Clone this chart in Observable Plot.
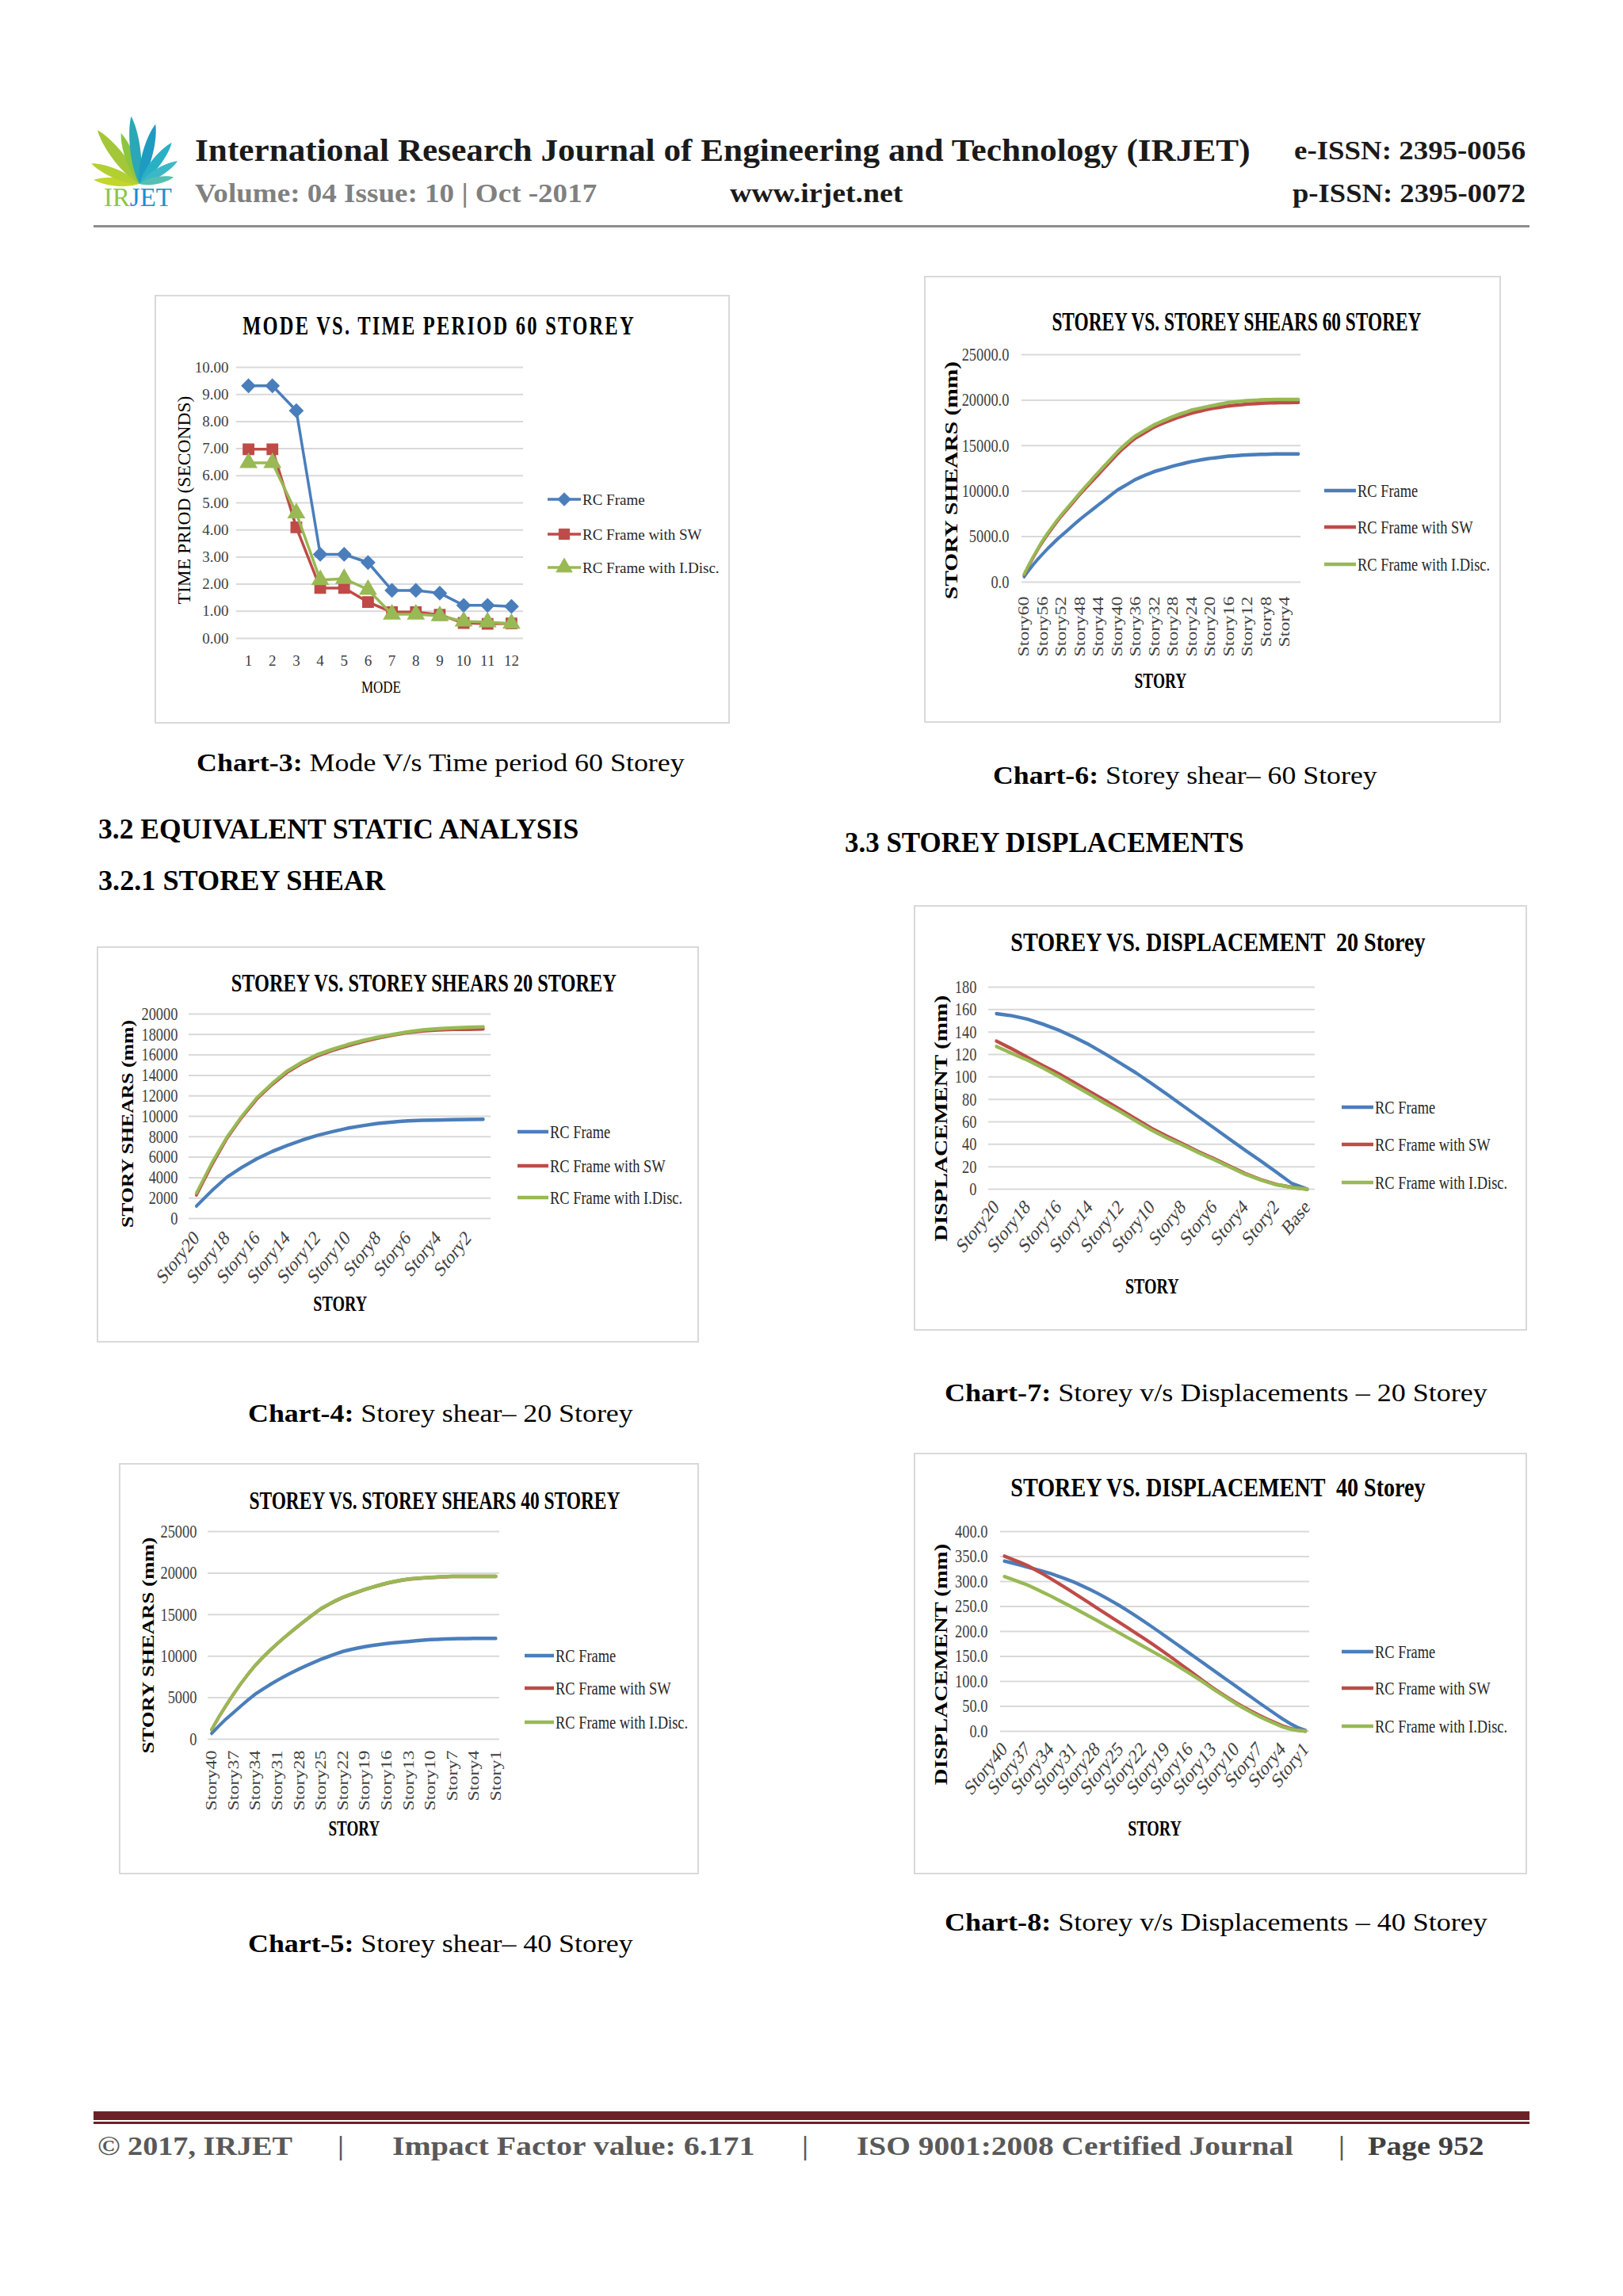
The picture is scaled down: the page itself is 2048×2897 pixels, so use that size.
<!DOCTYPE html>
<html><head><meta charset="utf-8">
<script src="https://cdn.jsdelivr.net/npm/d3@7"></script>
<script src="https://cdn.jsdelivr.net/npm/@observablehq/plot@0.6"></script>
<style>
html,body{margin:0;padding:0;background:#fff;}
#page{position:relative;width:2048px;height:2897px;overflow:hidden;background:#fff;font-family:"Liberation Serif",serif;}
.t{position:absolute;white-space:pre;line-height:1;transform-origin:50% 50%;}
.box{position:absolute;border:2px solid #d9d9d9;box-sizing:border-box;}
.chart{position:absolute;transform-origin:0 0;}
.chart svg{position:absolute;left:0;top:0;overflow:visible;}
.bar{position:absolute;}
</style></head><body><div id="page"></div>
<script>
// ---------------- DATA ----------------
const SERIES_NAMES = ["RC Frame", "RC Frame with SW", "RC Frame with I.Disc."];

// Chart-3: Mode vs time period, 60 storey
const c3Modes = [1,2,3,4,5,6,7,8,9,10,11,12];
const c3YTicks = [0,1,2,3,4,5,6,7,8,9,10];
const c3Rc = [9.32,9.32,8.40,3.10,3.10,2.80,1.77,1.77,1.67,1.22,1.22,1.18];
const c3Sw = [6.98,6.98,4.10,1.86,1.86,1.34,0.97,0.97,0.87,0.57,0.54,0.55];
const c3Id = [6.48,6.48,4.62,2.16,2.20,1.80,0.89,0.89,0.83,0.63,0.60,0.55];

// Chart-6: storey shears, 60 storey (Story60 ... Story1)
const c6Stories = Array.from({length:60}, (_, i) => "Story" + (60 - i));
const c6TickLabels = ["Story60","Story56","Story52","Story48","Story44","Story40","Story36","Story32","Story28","Story24","Story20","Story16","Story12","Story8","Story4"];
const c6YTicks = [0,5000,10000,15000,20000,25000];
const c6Rc = [600,1300,1950,2550,3100,3650,4150,4650,5100,5550,
  6000,6450,6900,7300,7700,8100,8500,8900,9300,9700,
  10100,10400,10700,11000,11300,11520,11740,11950,12150,12300,
  12450,12600,12750,12880,13000,13130,13250,13340,13430,13520,
  13600,13660,13720,13790,13850,13880,13920,13950,13980,14000,
  14020,14040,14050,14060,14080,14090,14100,14100,14100,14100];
const c6Sw = [800,1800,2750,3650,4450,5200,5900,6600,7250,7850,
  8450,9050,9650,10200,10750,11300,11850,12400,12950,13500,
  14050,14550,15000,15450,15850,16150,16450,16750,17050,17280,
  17500,17700,17900,18080,18250,18420,18580,18700,18820,18940,
  19050,19130,19210,19290,19370,19420,19470,19520,19570,19600,
  19630,19660,19690,19700,19710,19720,19730,19740,19750,19750];
const c6Id = [900,1900,2850,3750,4600,5350,6050,6750,7400,8000,
  8600,9200,9800,10400,10950,11550,12100,12650,13200,13750,
  14300,14800,15250,15700,16100,16400,16700,17000,17300,17530,
  17750,17980,18200,18380,18550,18720,18900,19020,19130,19240,
  19350,19450,19550,19650,19750,19800,19850,19900,19950,19980,
  20000,20030,20050,20060,20070,20075,20080,20080,20080,20080];

// Chart-4: storey shears, 20 storey (Story20 ... Story1)
const c4Stories = Array.from({length:20}, (_, i) => "Story" + (20 - i));
const c4TickLabels = ["Story20","Story18","Story16","Story14","Story12","Story10","Story8","Story6","Story4","Story2"];
const c4YTicks = [0,2000,4000,6000,8000,10000,12000,14000,16000,18000,20000];
const c4Rc = [1220,2700,4030,5000,5840,6550,7140,7670,8130,8500,8830,9080,9300,9440,9560,9610,9640,9670,9690,9710];
const c4Sw = [2300,5200,7800,9900,11700,13100,14300,15200,15900,16450,16900,17300,17650,17950,18200,18350,18450,18500,18500,18550];
const c4Id = [2500,5400,7920,10000,11820,13200,14420,15300,16030,16550,17010,17400,17740,18000,18260,18450,18570,18650,18700,18750];

// Chart-7: displacement, 20 storey (Story20 ... Story1, Base)
const c7Stories = Array.from({length:20}, (_, i) => "Story" + (20 - i)).concat(["Base"]);
const c7TickLabels = ["Story20","Story18","Story16","Story14","Story12","Story10","Story8","Story6","Story4","Story2","Base"];
const c7YTicks = [0,20,40,60,80,100,120,140,160,180];
const c7Rc = [156.4,154.5,151.5,147,141.8,135.5,128.5,120.5,112,103.5,94,84.3,74.4,64.5,54.6,44.7,34.8,25.2,15.3,5.2,0];
const c7Sw = [132,125,117.5,110,103,95,87,79,70.8,62.5,54.2,47,40.3,33.5,27.2,20.5,14,8.6,4.3,1.7,0];
const c7Id = [127.2,121,115,108,100.5,92.5,84.6,76.5,68.8,60.5,52.5,45.5,39.3,32.5,26.4,19.8,13.4,8.2,4,1.6,0];

// Chart-5: storey shears, 40 storey (Story40 ... Story1)
const c5Stories = Array.from({length:40}, (_, i) => "Story" + (40 - i));
const c5TickLabels = ["Story40","Story37","Story34","Story31","Story28","Story25","Story22","Story19","Story16","Story13","Story10","Story7","Story4","Story1"];
const c5YTicks = [0,5000,10000,15000,20000,25000];
const c5Rc = [700,1600,2450,3200,3980,4730,5440,6020,6570,7090,
  7570,8020,8450,8860,9250,9620,9950,10270,10570,10780,
  10970,11140,11280,11410,11520,11610,11700,11770,11850,11920,
  11990,12030,12060,12090,12110,12130,12150,12150,12150,12150];
const c5Sw = [1150,2680,4080,5420,6680,7830,8900,9830,10680,11500,
  12260,13000,13710,14400,15070,15710,16200,16660,17070,17400,
  17720,18020,18280,18540,18780,18960,19130,19280,19350,19410,
  19470,19520,19570,19600,19600,19600,19600,19600,19600,19600];
const c5Id = [1170,2700,4100,5440,6700,7850,8920,9850,10700,11520,
  12280,13020,13730,14420,15090,15730,16220,16680,17090,17420,
  17740,18040,18300,18560,18800,18980,19150,19300,19370,19430,
  19490,19540,19590,19620,19620,19620,19620,19620,19620,19620];

// Chart-8: displacement, 40 storey (Story40 ... Story1)
const c8Stories = Array.from({length:40}, (_, i) => "Story" + (40 - i));
const c8TickLabels = ["Story40","Story37","Story34","Story31","Story28","Story25","Story22","Story19","Story16","Story13","Story10","Story7","Story4","Story1"];
const c8YTicks = [0,50,100,150,200,250,300,350,400];
const c8Rc = [341,337.2,333.2,329,324.8,320.5,316,310.6,305,299,
  292,284.7,277,268.6,260,251,241.3,231.3,221,210.5,
  199.8,189,178,167,156,145,134,123,112,101,
  90,79,68,57,46.2,35.5,25,15.3,7.3,1.6];
const c8Sw = [351,344.8,338.5,332,323.6,315,306,296.5,286.8,277,
  267,257,247,237,227,217,207,197,187,176.5,
  165.8,155,143.8,132.4,121,109.5,98.1,87,76.5,66.5,
  57,48.3,40,32,24.6,17.6,11,5.6,2.2,0.5];
const c8Id = [310,304.5,298.8,293,285.8,278.5,271,263,255,247,
  238.7,230.3,222,213.3,204.7,196,187.3,178.7,170,161.5,
  152.8,144,134.8,125.5,116,105.8,95.5,85,75,65,
  55,46.3,37.8,29.5,22.3,15.5,9,4.5,1.8,0.5];

// ---------------- RENDER ----------------
const BLUE = "#4A7EBB", RED = "#BE4B48", GREEN = "#98B954";
const COLORS = [BLUE, RED, GREEN];
const page = document.getElementById("page");
const SERIF = '"Liberation Serif", "Times New Roman", serif';

function addText(parent, html, o) {
  const el = document.createElement("div");
  el.className = "t";
  el.innerHTML = html;
  el.style.fontFamily = o.family || SERIF;
  el.style.fontSize = o.size + "px";
  el.style.fontWeight = o.weight || "normal";
  el.style.color = o.color || "#000";
  if (o.ls) el.style.letterSpacing = o.ls + "px";
  el.style.left = o.x + "px";
  el.style.top = o.y + "px";
  parent.appendChild(el);
  const k = o.w ? o.w / el.offsetWidth : 1;
  if (o.anchor === "left") {
    el.style.transformOrigin = "0 50%";
    el.style.transform = `translateY(-50%) scaleX(${k})`;
  } else {
    el.style.transform = `translate(-50%,-50%) rotate(${o.rot || 0}deg) scaleX(${k})`;
  }
  return el;
}
function bar(x, y, w, h, color) {
  const d = document.createElement("div");
  d.className = "bar";
  Object.assign(d.style, {left: x + "px", top: y + "px", width: w + "px", height: h + "px", background: color});
  page.appendChild(d);
}
const SYM = {diamond2: d3.symbolDiamond2, square: d3.symbolSquare, triangle: d3.symbolTriangle};

function drawChart(cfg) {
  const {box, s, grid} = cfg;
  const bd = document.createElement("div");
  bd.className = "box";
  Object.assign(bd.style, {left: box.x + "px", top: box.y + "px", width: box.w + "px", height: box.h + "px"});
  page.appendChild(bd);
  const W = box.w / s, H = box.h;
  const c = document.createElement("div");
  c.className = "chart";
  Object.assign(c.style, {left: box.x + "px", top: box.y + "px", width: W + "px", height: H + "px", transform: `scaleX(${s})`});
  page.appendChild(c);
  const vx = p => (p - box.x) / s, vy = p => p - box.y;
  const n = cfg.cats.length;
  const marks = [
    Plot.gridY(cfg.yTicks, {stroke: "#d9d9d9", strokeOpacity: 1, strokeWidth: 2}),
    Plot.axisY(cfg.yTicks, {tickSize: 0, tickPadding: (grid.l - cfg.yLabR) / s, tickFormat: cfg.yFmt, fontSize: cfg.yfs, label: null})
  ];
  cfg.series.forEach((vals, k) => {
    const d = vals.map((v, i) => ({i, v}));
    marks.push(Plot.line(d, {x: "i", y: "v", stroke: COLORS[k], strokeWidth: cfg.lw}));
    if (cfg.markers) marks.push(Plot.dot(d, {x: "i", y: "v", symbol: cfg.markers[k], fill: COLORS[k], stroke: COLORS[k], r: cfg.mr}));
  });
  const lab = cfg.tickLabels.map(l => ({i: cfg.cats.indexOf(l), label: String(l)}));
  marks.push(Plot.text(lab, {x: "i", y: () => cfg.yDomain[0], text: "label", rotate: cfg.rot,
    textAnchor: cfg.rot ? "end" : "middle", lineAnchor: "middle", dy: cfg.xdy, fontSize: cfg.xfs, fill: "#404040"}));
  const svg = Plot.plot({
    width: W, height: H,
    marginLeft: vx(grid.l), marginRight: W - vx(grid.r), marginTop: vy(grid.t), marginBottom: H - vy(grid.b),
    x: {type: "linear", domain: [-0.5, n - 0.5], axis: null, label: null},
    y: {domain: cfg.yDomain, label: null},
    style: {fontFamily: SERIF, color: "#404040", background: "none", overflow: "visible"},
    marks
  });
  svg.style.position = "absolute"; svg.style.left = "0"; svg.style.top = "0";
  c.appendChild(svg);

  const T = cfg.title;
  addText(c, T.text, {x: vx(T.cx), y: vy(T.cy), w: T.w / s, size: T.size, weight: "bold", ls: T.ls});
  const Y = cfg.yTitle;
  addText(c, Y.text, {x: vx(Y.cx), y: vy(Y.cy), w: Y.len, size: Y.size, weight: Y.weight, rot: -90});
  const X = cfg.xTitle;
  addText(c, X.text, {x: vx(X.cx), y: vy(X.cy), w: X.w / s, size: X.size, weight: X.weight});

  const L = cfg.legend;
  const ov = d3.create("svg").attr("width", W).attr("height", H)
    .style("position", "absolute").style("left", 0).style("top", 0).style("overflow", "visible");
  SERIES_NAMES.forEach((name, k) => {
    const y = vy(L.ys[k]);
    ov.append("line").attr("x1", vx(L.x0)).attr("x2", vx(L.x1)).attr("y1", y).attr("y2", y)
      .attr("stroke", COLORS[k]).attr("stroke-width", cfg.lw).attr("stroke-linecap", "butt");
    if (cfg.markers) {
      ov.append("path").attr("d", d3.symbol(SYM[cfg.markers[k]], Math.PI * cfg.mr * cfg.mr)())
        .attr("transform", `translate(${vx((L.x0 + L.x1) / 2)},${y})`).attr("fill", COLORS[k]).attr("stroke", COLORS[k]);
    }
    addText(c, name, {x: vx(L.tx), y, size: L.size, anchor: "left", color: "#262626"});
  });
  c.appendChild(ov.node());
}

const fmt2 = d => d.toFixed(2), fmt1 = d => d.toFixed(1), fmt0 = d => String(d);

const charts = [
  { box: {x:195, y:372, w:726, h:541}, s: 1, grid: {l:298, r:660, t:463, b:805},
    cats: c3Modes, tickLabels: c3Modes, rot: 0, xdy: 28, xfs: 19,
    yDomain: [0, 10], yTicks: c3YTicks, yFmt: fmt2, yLabR: 288, yfs: 19,
    series: [c3Rc, c3Sw, c3Id], lw: 3.5, markers: ["diamond2", "square", "triangle"], mr: 7.5,
    title: {text: "MODE VS. TIME PERIOD 60 STOREY", cx: 554, cy: 411, w: 496, size: 33, ls: 3},
    yTitle: {text: "TIME PRIOD (SECONDS)", cx: 232, cy: 631, len: 263, size: 23, weight: "normal"},
    xTitle: {text: "MODE", cx: 481, cy: 867, w: 50, size: 20, weight: "normal"},
    legend: {ys: [630, 674, 716], x0: 691, x1: 733, tx: 735, size: 19} },
  { box: {x:1166, y:348, w:728, h:564}, s: 0.8, grid: {l:1289, r:1641, t:447, b:734},
    cats: c6Stories, tickLabels: c6TickLabels, rot: -90, xdy: 18, xfs: 24,
    yDomain: [0, 25000], yTicks: c6YTicks, yFmt: fmt1, yLabR: 1273, yfs: 23,
    series: [c6Rc, c6Sw, c6Id], lw: 4.5,
    title: {text: "STOREY VS. STOREY SHEARS 60 STOREY", cx: 1560, cy: 406, w: 466, size: 33},
    yTitle: {text: "STORY SHEARS (mm)", cx: 1200, cy: 606, len: 300, size: 28, weight: "bold"},
    xTitle: {text: "STORY", cx: 1464, cy: 859, w: 66, size: 27, weight: "bold"},
    legend: {ys: [619, 665, 712], x0: 1671, x1: 1711, tx: 1713, size: 23} },
  { box: {x:122, y:1194, w:760, h:500}, s: 0.8, grid: {l:238, r:619, t:1279, b:1537},
    cats: c4Stories, tickLabels: c4TickLabels, rot: -45, xdy: 20, xfs: 26,
    yDomain: [0, 20000], yTicks: c4YTicks, yFmt: fmt0, yLabR: 224, yfs: 23,
    series: [c4Rc, c4Sw, c4Id], lw: 4.5,
    title: {text: "STOREY VS. STOREY SHEARS 20 STOREY", cx: 535, cy: 1240, w: 486, size: 32},
    yTitle: {text: "STORY SHEARS (mm)", cx: 161, cy: 1418, len: 262, size: 26, weight: "bold"},
    xTitle: {text: "STORY", cx: 429, cy: 1645, w: 68, size: 27, weight: "bold"},
    legend: {ys: [1428, 1471, 1511], x0: 653, x1: 692, tx: 694, size: 23} },
  { box: {x:1153, y:1142, w:774, h:537}, s: 0.8, grid: {l:1247, r:1659, t:1245, b:1500},
    cats: c7Stories, tickLabels: c7TickLabels, rot: -45, xdy: 18, xfs: 26,
    yDomain: [0, 180], yTicks: c7YTicks, yFmt: fmt0, yLabR: 1232, yfs: 23,
    series: [c7Rc, c7Sw, c7Id], lw: 4.5,
    title: {text: "STOREY VS. DISPLACEMENT  20 Storey", cx: 1537, cy: 1189, w: 523, size: 33},
    yTitle: {text: "DISPLACEMENT (mm)", cx: 1188, cy: 1411, len: 310, size: 28, weight: "bold"},
    xTitle: {text: "STORY", cx: 1454, cy: 1623, w: 68, size: 27, weight: "bold"},
    legend: {ys: [1397, 1444, 1492], x0: 1693, x1: 1733, tx: 1735, size: 23} },
  { box: {x:150, y:1846, w:732, h:519}, s: 0.8, grid: {l:262, r:630, t:1932, b:2194},
    cats: c5Stories, tickLabels: c5TickLabels, rot: -90, xdy: 14, xfs: 24,
    yDomain: [0, 25000], yTicks: c5YTicks, yFmt: fmt0, yLabR: 248, yfs: 23,
    series: [c5Rc, c5Sw, c5Id], lw: 4.5,
    title: {text: "STOREY VS. STOREY SHEARS 40 STOREY", cx: 548, cy: 1893, w: 468, size: 32},
    yTitle: {text: "STORY SHEARS (mm)", cx: 187, cy: 2076, len: 273, size: 27, weight: "bold"},
    xTitle: {text: "STORY", cx: 447, cy: 2307, w: 65, size: 27, weight: "bold"},
    legend: {ys: [2089, 2130, 2173], x0: 662, x1: 699, tx: 701, size: 23} },
  { box: {x:1153, y:1833, w:774, h:532}, s: 0.8, grid: {l:1262, r:1652, t:1932, b:2184},
    cats: c8Stories, tickLabels: c8TickLabels, rot: -45, xdy: 18, xfs: 26,
    yDomain: [0, 400], yTicks: c8YTicks, yFmt: fmt1, yLabR: 1246, yfs: 23,
    series: [c8Rc, c8Sw, c8Id], lw: 4.5,
    title: {text: "STOREY VS. DISPLACEMENT  40 Storey", cx: 1537, cy: 1877, w: 523, size: 33},
    yTitle: {text: "DISPLACEMENT (mm)", cx: 1188, cy: 2100, len: 304, size: 28, weight: "bold"},
    xTitle: {text: "STORY", cx: 1457, cy: 2307, w: 68, size: 27, weight: "bold"},
    legend: {ys: [2084, 2130, 2178], x0: 1693, x1: 1733, tx: 1735, size: 23} }
];
charts.forEach(drawChart);

// ---------------- HEADER ----------------
(function logo() {
  const svg = d3.create("svg").attr("width", 140).attr("height", 110)
    .style("position", "absolute").style("left", "100px").style("top", "130px").style("overflow", "visible");
  // [angle from vertical, length, half-width, colour]; base of the fan at page (176,232)
  const leaves = [[-85,58,8,"#c3d62b"],[-67,66,9,"#b2d032"],[-38,86,11,"#a4c639"],[-20,68,9,"#8cc63f"],
                  [-7,86,10,"#2aa8b5"],[15,78,10,"#1f9bc2"],[38,66,9,"#2ab0c4"],[59,56,8,"#3bb8c8"],[79,44,7,"#56c0b0"]];
  leaves.forEach(([a, h, w, col]) => {
    svg.append("path")
      .attr("d", `M0,0 C${w},${-h*0.3} ${w*0.7},${-h*0.8} 0,${-h} C${-w*0.7},${-h*0.8} ${-w},${-h*0.3} 0,0Z`)
      .attr("transform", `translate(76,102) rotate(${a})`).attr("fill", col);
  });
  page.appendChild(svg.node());
  addText(page, '<span style="color:#8dc63f">IR</span><span style="color:#1b8fd0">JET</span>', {x: 131, y: 249, size: 34, anchor: "left", w: 86});
})();
addText(page, "International Research Journal of Engineering and Technology (IRJET)", {x: 246, y: 190, size: 40, weight: "bold", anchor: "left", w: 1332, color: "#1a1a1a"});
addText(page, "e-ISSN: 2395-0056", {x: 1633, y: 190, size: 34, weight: "bold", anchor: "left", w: 292, color: "#1a1a1a"});
addText(page, "Volume: 04 Issue: 10 | Oct -2017", {x: 246, y: 244, size: 34, weight: "bold", anchor: "left", w: 507, color: "#808080"});
addText(page, "www.irjet.net", {x: 921, y: 244, size: 34, weight: "bold", anchor: "left", w: 218, color: "#1a1a1a"});
addText(page, "p-ISSN: 2395-0072", {x: 1631, y: 244, size: 34, weight: "bold", anchor: "left", w: 294, color: "#1a1a1a"});
bar(118, 284, 1812, 3, "#8c8c8c");

// ---------------- HEADINGS & CAPTIONS ----------------
addText(page, "3.2 EQUIVALENT STATIC ANALYSIS", {x: 124, y: 1046, size: 35, weight: "bold", anchor: "left", w: 606});
addText(page, "3.2.1 STOREY SHEAR", {x: 124, y: 1111, size: 35, weight: "bold", anchor: "left", w: 362});
addText(page, "3.3 STOREY DISPLACEMENTS", {x: 1066, y: 1063, size: 35, weight: "bold", anchor: "left", w: 504});
const captions = [
  ["Chart-3:", " Mode V/s Time period 60 Storey", 248, 962, 616],
  ["Chart-6:", " Storey shear– 60 Storey", 1253, 978, 485],
  ["Chart-4:", " Storey shear– 20 Storey", 313, 1783, 486],
  ["Chart-7:", " Storey v/s Displacements – 20 Storey", 1192, 1757, 685],
  ["Chart-5:", " Storey shear– 40 Storey", 313, 2452, 486],
  ["Chart-8:", " Storey v/s Displacements – 40 Storey", 1192, 2425, 685]
];
captions.forEach(([b, r, x, y, w]) => addText(page, `<b>${b}</b>${r}`, {x, y, size: 32, anchor: "left", w}));

// ---------------- FOOTER ----------------
bar(118, 2664, 1812, 11, "#6b2227");
bar(118, 2677, 1812, 3, "#6b2227");
const FG = "#595959";
addText(page, "© 2017, IRJET", {x: 123, y: 2708, size: 34, weight: "bold", anchor: "left", w: 246, color: FG});
addText(page, "|", {x: 430, y: 2708, size: 34, weight: "bold", color: FG});
addText(page, "Impact Factor value: 6.171", {x: 495, y: 2708, size: 34, weight: "bold", anchor: "left", w: 457, color: FG});
addText(page, "|", {x: 1016, y: 2708, size: 34, weight: "bold", color: FG});
addText(page, "ISO 9001:2008 Certified Journal", {x: 1081, y: 2708, size: 34, weight: "bold", anchor: "left", w: 551, color: FG});
addText(page, "|", {x: 1693, y: 2708, size: 34, weight: "bold", color: FG});
addText(page, "Page 952", {x: 1726, y: 2708, size: 34, weight: "bold", anchor: "left", w: 146, color: "#404040"});
</script>
</body></html>
